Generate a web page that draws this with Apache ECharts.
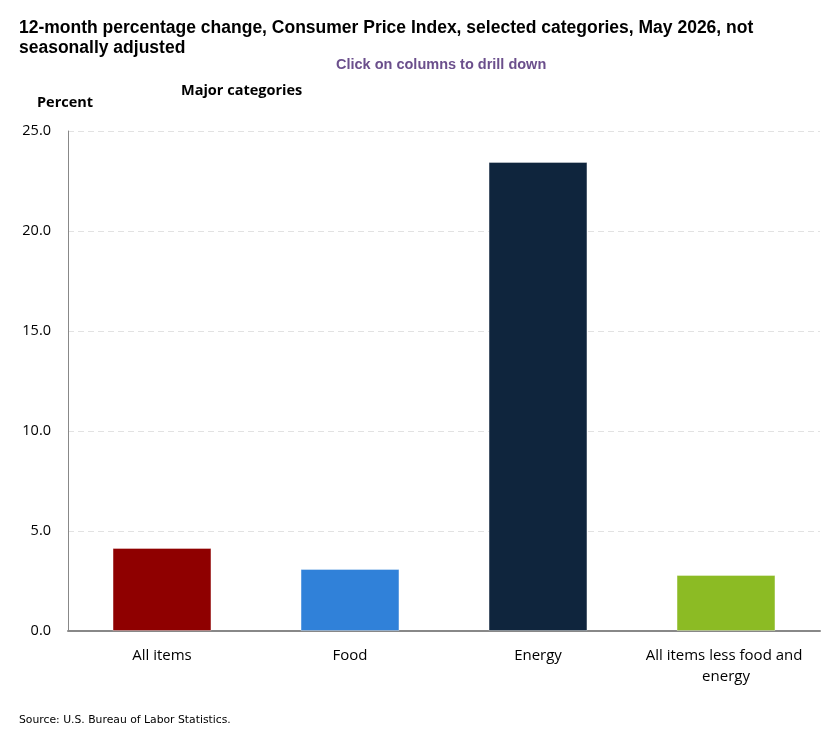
<!DOCTYPE html>
<html><head><meta charset="utf-8">
<script src="https://cdn.jsdelivr.net/npm/echarts@6/dist/echarts.min.js"></script>
<style>html,body{margin:0;padding:0;background:#fff}#c{width:821px;height:736px}</style>
</head><body><div id="c"></div>
<script>
const categories = ["All items", "Food", "Energy", "All items less food and energy"];
const values = [4.15, 3.1, 23.45, 2.8];
const barColors = ["#8f0000", "#3081d9", "#0f253d", "#8cbb24"];
const yTicks = [0, 5, 10, 15, 20, 25];

const chart = echarts.init(document.getElementById('c'), null, {renderer: 'canvas'});
chart.setOption({
  animation: false,
  backgroundColor: '#fff',
  title: [
    {text: '12-month percentage change, Consumer Price Index, selected categories, May 2026, not\nseasonally adjusted',
     left: 14, top: 13, textStyle: {fontFamily: 'Liberation Sans', fontWeight: 'bold', fontSize: 17.5, color: '#000', lineHeight: 20}},
    {text: 'Click on columns to drill down', left: 331, top: 52,
     textStyle: {fontFamily: 'Liberation Sans', fontWeight: 'bold', fontSize: 14.5, color: '#6b4f8c'}},
    {text: 'Major categories', left: 176, top: 78,
     textStyle: {fontFamily: 'Open Sans', fontWeight: 'bold', fontSize: 14.5, color: '#000'}},
    {text: 'Percent', left: 32, top: 90,
     textStyle: {fontFamily: 'Open Sans', fontWeight: 'bold', fontSize: 14.5, color: '#000'}},
    {text: 'Source: U.S. Bureau of Labor Statistics.', left: 14, top: 710,
     textStyle: {fontFamily: 'DejaVu Sans', fontWeight: 'normal', fontSize: 10.8, color: '#000'}}
  ],
  grid: {left: 68, right: 1, top: 131, bottom: 105},
  xAxis: {
    type: 'category', data: categories,
    axisLine: {lineStyle: {color: '#888', width: 2}},
    axisTick: {show: false},
    axisLabel: {interval: 0, color: '#000', fontFamily: 'Open Sans', fontSize: 15, margin: 14, width: 178, overflow: 'break', lineHeight: 21}
  },
  yAxis: {
    type: 'value', min: 0, max: 25, interval: 5,
    axisLine: {show: true, lineStyle: {color: '#888', width: 1}},
    axisTick: {show: false},
    splitLine: {lineStyle: {color: '#e2e2e2', type: [6, 4]}},
    axisLabel: {color: '#000', fontFamily: 'Open Sans', fontSize: 14.5, margin: 17,
      formatter: v => yTicks.includes(v) ? v.toFixed(1) : ''}
  },
  series: [{
    type: 'bar', barWidth: '52.6%',
    data: values.map((v, i) => ({value: v, itemStyle: {color: barColors[i], borderColor: 'rgba(255,255,255,0.35)', borderWidth: 1}})),
  }]
});
</script></body></html>
